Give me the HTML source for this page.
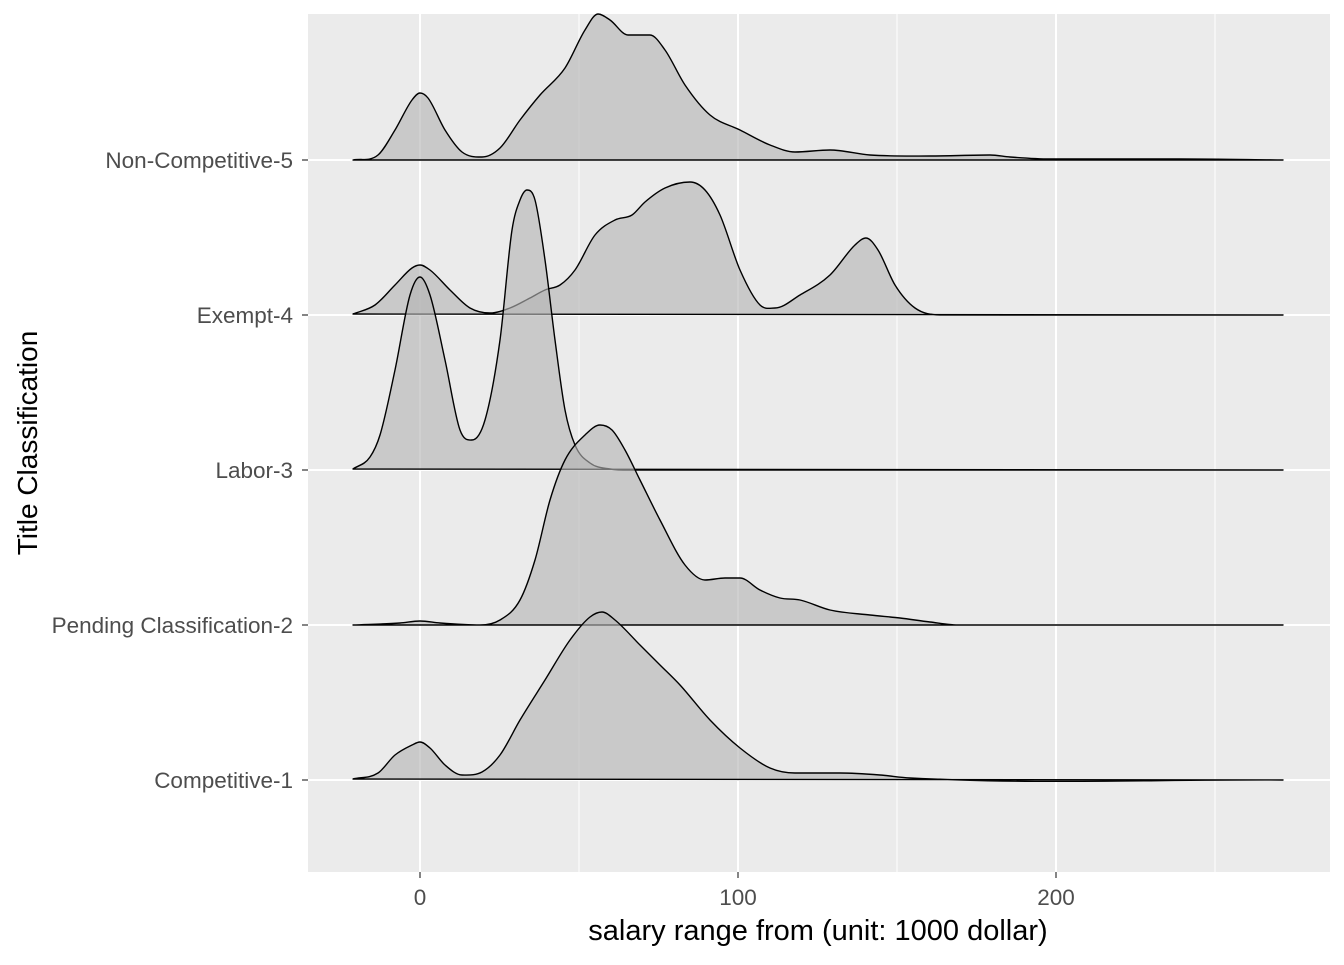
<!DOCTYPE html>
<html><head><meta charset="utf-8"><style>
html,body{margin:0;padding:0;background:#fff;}
svg text{font-family:"Liberation Sans",Arial,sans-serif;}
</style></head><body>
<svg id="s" width="1344" height="960" xmlns="http://www.w3.org/2000/svg">
<rect x="0" y="0" width="1344" height="960" fill="#fff"/>
<rect x="308" y="14" width="1022" height="858" fill="#ebebeb"/>
<g stroke="#fff" stroke-width="1">
<line x1="579" y1="14" x2="579" y2="872"/><line x1="897" y1="14" x2="897" y2="872"/><line x1="1215" y1="14" x2="1215" y2="872"/>
</g>
<g stroke="#fff" stroke-width="2">
<line x1="420" y1="14" x2="420" y2="872"/><line x1="738" y1="14" x2="738" y2="872"/><line x1="1056" y1="14" x2="1056" y2="872"/>
<line x1="308" y1="160" x2="1330" y2="160"/><line x1="308" y1="315" x2="1330" y2="315"/><line x1="308" y1="470" x2="1330" y2="470"/><line x1="308" y1="625" x2="1330" y2="625"/><line x1="308" y1="780" x2="1330" y2="780"/>
</g>
<g id="curves" fill="#b3b3b3" fill-opacity="0.625" stroke="#000" stroke-width="1.4" stroke-linejoin="round">
<path data-b="160" data-p="353,160 378,155 395,130 412,100 420,93 428,98 445,130 462,152 482,157 500,148 520,120 540,95 565,68 585,30 598,14 610,20 628,35 650,35 665,50 685,85 710,115 740,130 770,145 795,152 830,150 870,155 930,156 990,155 1010,157 1050,159 1180,159 1283,160"/>
<path data-b="315" data-p="353,314 375,305 395,285 412,268 420,265 430,270 450,290 470,308 490,313 510,308 530,298 545,290 560,285 575,270 595,235 615,220 632,215 645,202 665,188 690,182 705,190 720,215 740,270 760,305 775,308 800,295 830,275 855,245 866,238 878,250 895,285 915,308 940,315 1283,315"/>
<path data-b="470" data-p="353,469 370,457 380,435 395,370 410,295 420,277 430,295 445,360 460,430 472,440 485,420 500,340 512,230 520,200 527,190 535,200 545,260 555,340 565,410 575,445 590,463 610,469 640,470 1283,470"/>
<path data-b="625" data-p="353,625 400,623 420,621 440,623 480,625 500,620 520,600 535,560 550,500 565,460 585,435 600,425 612,430 625,450 640,480 660,520 685,565 705,580 725,578 740,578 760,590 780,598 800,600 830,610 870,615 900,618 930,622 960,625 1283,625"/>
<path data-b="780" data-p="353,779 378,773 395,755 412,745 420,742 430,748 445,765 462,775 482,772 500,755 520,720 545,680 570,640 590,617 602,612 615,620 640,645 660,665 680,685 710,720 740,748 770,768 795,773 840,773 880,775 910,778 1283,780"/>
</g>
<g stroke="#333" stroke-width="1.2">
<line x1="302" y1="160" x2="308" y2="160"/><line x1="302" y1="315" x2="308" y2="315"/><line x1="302" y1="470" x2="308" y2="470"/><line x1="302" y1="625" x2="308" y2="625"/><line x1="302" y1="780" x2="308" y2="780"/>
<line x1="420" y1="872" x2="420" y2="878"/><line x1="738" y1="872" x2="738" y2="878"/><line x1="1056" y1="872" x2="1056" y2="878"/>
</g>
<g fill="#4d4d4d" font-size="22.5" text-anchor="end">
<text x="293" y="168">Non-Competitive-5</text>
<text x="293" y="323">Exempt-4</text>
<text x="293" y="478">Labor-3</text>
<text x="293" y="633">Pending Classification-2</text>
<text x="293" y="788">Competitive-1</text>
</g>
<g fill="#4d4d4d" font-size="22.5" text-anchor="middle">
<text x="420" y="905">0</text><text x="738" y="905">100</text><text x="1056" y="905">200</text>
</g>
<text x="818" y="940" font-size="29" text-anchor="middle" fill="#000">salary range from (unit: 1000 dollar)</text>
<text transform="translate(37,443) rotate(-90)" font-size="28" text-anchor="middle" fill="#000">Title Classification</text>
</svg>
<script>
document.querySelectorAll('#curves path').forEach(function(p){
  var pts=p.getAttribute('data-p').trim().split(/\s+/).map(function(s){return s.split(',').map(Number);});
  var n=pts.length,sec=[],m=[];
  for(var i=0;i<n-1;i++) sec.push((pts[i+1][1]-pts[i][1])/(pts[i+1][0]-pts[i][0]));
  for(var i=0;i<n;i++){
    if(i==0) m.push(sec[0]); else if(i==n-1) m.push(sec[n-2]);
    else if(sec[i-1]*sec[i]<=0) m.push(0);
    else m.push((sec[i-1]+sec[i])/2);
  }
  var d='M'+pts[0][0]+','+pts[0][1];
  for(var i=0;i<n-1;i++){
    var dx=pts[i+1][0]-pts[i][0];
    d+=' C'+(pts[i][0]+dx/3)+','+(pts[i][1]+m[i]*dx/3)+' '+(pts[i+1][0]-dx/3)+','+(pts[i+1][1]-m[i+1]*dx/3)+' '+pts[i+1][0]+','+pts[i+1][1];
  }
  d+=' Z';
  p.setAttribute('d',d);
});
</script>
</body></html>
